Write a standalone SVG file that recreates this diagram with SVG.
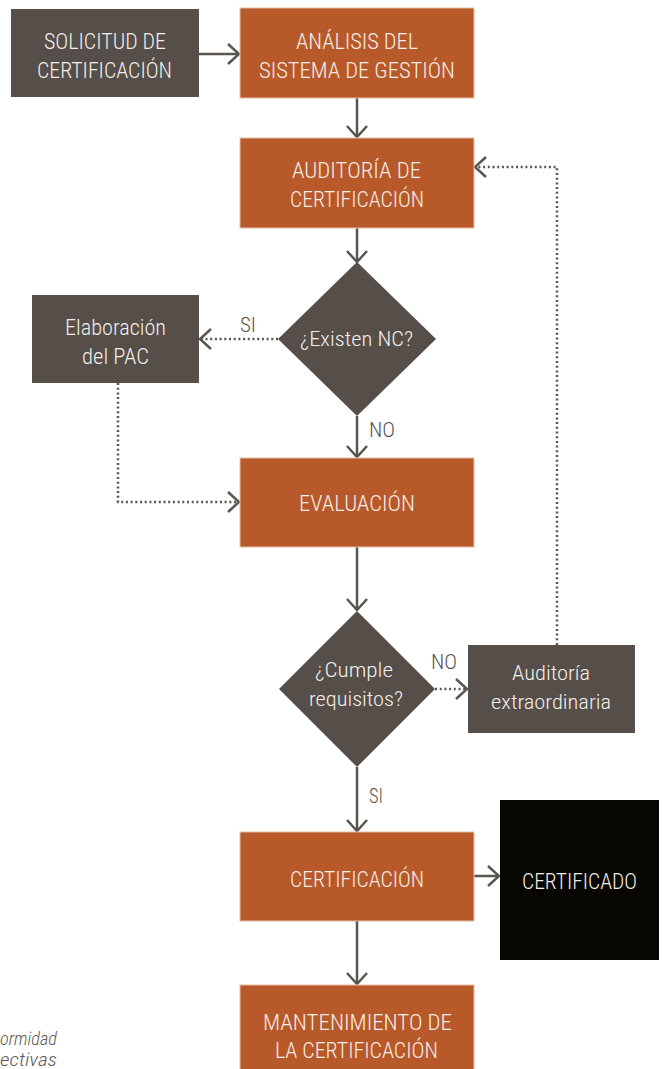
<svg xmlns="http://www.w3.org/2000/svg" width="664" height="1069" viewBox="0 0 664 1069">
  <style>
    .dark { fill: #554e49; }
    .orange { fill: #b8592a; stroke: #e7bfa6; stroke-width: 1; }
    .black { fill: #070600; }
    .t { font-family: "Roboto Condensed", "Liberation Sans Narrow", Roboto, "Liberation Sans", sans-serif; font-weight: 300; font-size: 22px; fill: #f3eee9; }
    .dt { font-size: 20px; }
    .lbl { font-family: "Roboto Condensed", "Liberation Sans Narrow", Roboto, "Liberation Sans", sans-serif; font-weight: 300; font-size: 21px; fill: #5a544f; }
    .note { font-family: "Roboto Condensed", "Liberation Sans Narrow", Roboto, "Liberation Sans", sans-serif; font-style: italic; font-weight: 300; font-size: 18px; fill: #5e5853; }
    .solid { fill: none; stroke: #5b5550; stroke-width: 2.5; }
    .dotted { fill: none; stroke: #5b5550; stroke-width: 2.5; stroke-dasharray: 2 2.7; }
  </style>
  <defs>
    <marker id="chev" markerUnits="userSpaceOnUse" viewBox="0 0 13 22" refX="12" refY="11" markerWidth="13" markerHeight="22" orient="auto">
      <path d="M1,1 L12,11 L1,21" fill="none" stroke="#5b5550" stroke-width="2.5"/>
    </marker>
  </defs>

  <!-- connectors -->
  <g id="connectors">
    <path class="solid" d="M199,54 H239" marker-end="url(#chev)"/>
    <path class="solid" d="M357,98 V137" marker-end="url(#chev)"/>
    <path class="solid" d="M357,228 V262" marker-end="url(#chev)"/>
    <path class="dotted" d="M278,339 H200" marker-end="url(#chev)"/>
    <path class="solid" d="M357,416 V457" marker-end="url(#chev)"/>
    <path class="dotted" d="M118,383 V502 H239" marker-end="url(#chev)"/>
    <path class="solid" d="M357,547 V610" marker-end="url(#chev)"/>
    <path class="dotted" d="M435,689 H467" marker-end="url(#chev)"/>
    <path class="dotted" d="M557,645 V167 H475" marker-end="url(#chev)"/>
    <path class="solid" d="M357,767 V831" marker-end="url(#chev)"/>
    <path class="solid" d="M474,876 H499" marker-end="url(#chev)"/>
    <path class="solid" d="M357,921 V984" marker-end="url(#chev)"/>
  </g>

  <!-- edge labels -->
  <g id="labels">
    <text class="lbl" x="240" y="332" textLength="16" lengthAdjust="spacingAndGlyphs">SI</text>
    <text class="lbl" x="369" y="437" textLength="26" lengthAdjust="spacingAndGlyphs">NO</text>
    <text class="lbl" x="431" y="669" textLength="26" lengthAdjust="spacingAndGlyphs">NO</text>
    <text class="lbl" x="369" y="803" textLength="14" lengthAdjust="spacingAndGlyphs">SI</text>
  </g>

  <g id="solicitud">
    <rect class="dark" x="11" y="9" width="188" height="88"/>
    <text class="t" x="44" y="49" textLength="122" lengthAdjust="spacingAndGlyphs">SOLICITUD DE</text>
    <text class="t" x="37" y="78" textLength="135" lengthAdjust="spacingAndGlyphs">CERTIFICACIÓN</text>
  </g>

  <g id="analisis">
    <rect class="orange" x="240" y="8" width="234" height="90"/>
    <text class="t" x="296" y="49" textLength="122" lengthAdjust="spacingAndGlyphs">ANÁLISIS DEL</text>
    <text class="t" x="259" y="78" textLength="196" lengthAdjust="spacingAndGlyphs">SISTEMA DE GESTIÓN</text>
  </g>

  <g id="auditoria">
    <rect class="orange" x="240" y="138" width="234" height="90"/>
    <text class="t" x="292" y="178" textLength="129" lengthAdjust="spacingAndGlyphs">AUDITORÍA DE</text>
    <text class="t" x="290" y="207" textLength="134" lengthAdjust="spacingAndGlyphs">CERTIFICACIÓN</text>
  </g>

  <g id="existen-nc">
    <polygon class="dark" points="357,262 436,339 357,416 278,339"/>
    <text class="t dt" x="300" y="346" textLength="113" lengthAdjust="spacingAndGlyphs">¿Existen NC?</text>
  </g>

  <g id="elaboracion-pac">
    <rect class="dark" x="32" y="295" width="167" height="88"/>
    <text class="t" x="65" y="335" textLength="101" lengthAdjust="spacingAndGlyphs">Elaboración</text>
    <text class="t" x="82" y="364" textLength="67" lengthAdjust="spacingAndGlyphs">del PAC</text>
  </g>

  <g id="evaluacion">
    <rect class="orange" x="240" y="458" width="234" height="89"/>
    <text class="t" x="299" y="511" textLength="116" lengthAdjust="spacingAndGlyphs">EVALUACIÓN</text>
  </g>

  <g id="cumple-requisitos">
    <polygon class="dark" points="357,611 435,689 357,767 279,689"/>
    <text class="t dt" x="315" y="677" textLength="78" lengthAdjust="spacingAndGlyphs">¿Cumple</text>
    <text class="t dt" x="309" y="706" textLength="94" lengthAdjust="spacingAndGlyphs">requisitos?</text>
  </g>

  <g id="auditoria-extraordinaria">
    <rect class="dark" x="468" y="645" width="167" height="88"/>
    <text class="t dt" x="512" y="680" textLength="78" lengthAdjust="spacingAndGlyphs">Auditoría</text>
    <text class="t dt" x="491" y="709" textLength="120" lengthAdjust="spacingAndGlyphs">extraordinaria</text>
  </g>

  <g id="certificacion">
    <rect class="orange" x="240" y="832" width="234" height="89"/>
    <text class="t" x="290" y="887" textLength="134" lengthAdjust="spacingAndGlyphs">CERTIFICACIÓN</text>
  </g>

  <g id="certificado">
    <rect class="black" x="500" y="800" width="159" height="160"/>
    <text class="t" x="522" y="889" textLength="115" lengthAdjust="spacingAndGlyphs">CERTIFICADO</text>
  </g>

  <g id="mantenimiento">
    <rect class="orange" x="240" y="985" width="234" height="90"/>
    <text class="t" x="263" y="1030" textLength="189" lengthAdjust="spacingAndGlyphs">MANTENIMIENTO DE</text>
    <text class="t" x="275" y="1058" textLength="163" lengthAdjust="spacingAndGlyphs">LA CERTIFICACIÓN</text>
  </g>

  <!-- legend fragments at the lower-left margin -->
  <g id="legend">
    <text class="note" x="0" y="1045" textLength="57" lengthAdjust="spacingAndGlyphs">ormidad</text>
    <text class="note" x="0" y="1066" textLength="57" lengthAdjust="spacingAndGlyphs">ectivas</text>
  </g>
</svg>
